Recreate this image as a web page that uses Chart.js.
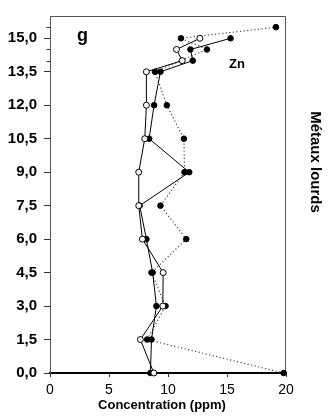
<!DOCTYPE html>
<html>
<head>
<meta charset="utf-8" />
<title>Zn - profil</title>
<script src="https://cdn.jsdelivr.net/npm/chart.js@4/dist/chart.umd.min.js"></script>
<style>
  html, body { margin: 0; padding: 0; background: #fff; }
  #wrap { position: relative; width: 328px; height: 416px; }
</style>
</head>
<body>
<div id="wrap"><canvas id="zn"></canvas></div>
<script>
// profondeurs (cm) et concentrations en Zn (ppm)
var depths = [0, 1.5, 3, 4.5, 6, 7.5, 9, 10.5, 12, 13.5, 14, 14.5, 15];
var znOpen = [8.8, 7.66, 9.56, 9.59, 7.83, 7.52, 7.52, 8.03, 8.17, 8.17, 11.2, 10.72, 12.7];
var znFilled = [8.51, 8.6, 9.02, 8.7, 8.17, 7.6, 11.8, 8.4, 8.82, 9.36, 12.1, 11.9, 15.3];
var dottedDepths = [0, 1.5, 3, 4.5, 6, 7.5, 9, 10.5, 12, 13.5, 14.5, 15, 15.5];
var znDotted = [19.8, 8.23, 9.79, 8.6, 11.55, 9.36, 11.4, 11.35, 9.9, 8.9, 13.3, 11.1, 19.15];

var xTicks = [0, 5, 10, 15, 20];
var yTicks = [0, 1.5, 3, 4.5, 6, 7.5, 9, 10.5, 12, 13.5, 15];
var yMinorTicks = [14, 14.5, 15.5];

function pairs(xs, ys) {
  return xs.map(function (x, i) { return { x: x, y: ys[i] }; });
}

var FONT = '"Liberation Sans", Arial, Helvetica, sans-serif';

// cadre, petites graduations et textes
var extras = {
  id: 'extras',
  beforeDatasetsDraw: function (chart) {
    var ctx = chart.ctx, a = chart.chartArea, y = chart.scales.y;
    ctx.save();
    ctx.strokeStyle = '#555';
    ctx.lineWidth = 1;
    ctx.beginPath();
    ctx.moveTo(a.left, a.top + 0.5);
    ctx.lineTo(a.right - 0.5, a.top + 0.5);
    ctx.lineTo(a.right - 0.5, a.bottom);
    ctx.stroke();
    ctx.strokeStyle = '#333';
    yMinorTicks.forEach(function (v) {
      var py = Math.round(y.getPixelForValue(v)) + 0.5;
      ctx.beginPath();
      ctx.moveTo(a.left - 3.5, py);
      ctx.lineTo(a.left, py);
      ctx.stroke();
    });
    ctx.restore();
  },
  afterDraw: function (chart) {
    var ctx = chart.ctx;
    ctx.save();
    ctx.fillStyle = '#000';
    ctx.textBaseline = 'alphabetic';
    ctx.textAlign = 'left';
    ctx.font = 'bold 18px ' + FONT;
    ctx.fillText('g', 77, 41);
    ctx.font = 'bold 13px ' + FONT;
    ctx.fillText('Zn', 229, 68);
    ctx.textAlign = 'center';
    ctx.textBaseline = 'middle';
    ctx.fillText('Concentration (ppm)', 162, 405);
    ctx.translate(315, 162);
    ctx.rotate(Math.PI / 2);
    ctx.font = 'bold 15px ' + FONT;
    ctx.fillText('Métaux lourds', 0, 0);
    ctx.restore();
  }
};

new Chart(document.getElementById('zn'), {
  type: 'scatter',
  data: {
    datasets: [{
      label: 'Zn (1)',
      data: pairs(znOpen, depths),
      showLine: true,
      borderColor: '#000',
      borderWidth: 1,
      pointRadius: 3,
      pointBackgroundColor: '#fff',
      pointBorderColor: '#000',
      pointBorderWidth: 1,
      clip: false
    }, {
      label: 'Zn (2)',
      data: pairs(znFilled, depths),
      showLine: true,
      borderColor: '#000',
      borderWidth: 1,
      pointRadius: 2.8,
      pointBackgroundColor: '#000',
      pointBorderColor: '#000',
      pointBorderWidth: 1,
      clip: false
    }, {
      label: 'Zn (3)',
      data: pairs(znDotted, dottedDepths),
      showLine: true,
      borderColor: '#444',
      borderWidth: 1.2,
      borderDash: [1.2, 2.4],
      pointRadius: 2.8,
      pointBackgroundColor: '#000',
      pointBorderColor: '#000',
      pointBorderWidth: 1,
      clip: false
    }]
  },
  options: {
    responsive: true,
    maintainAspectRatio: false,
    animation: false,
    events: [],
    layout: { padding: { top: 9, right: 42, left: 0, bottom: 0 } },
    plugins: { legend: { display: false }, tooltip: { enabled: false } },
    scales: {
      x: {
        type: 'linear',
        min: 0,
        max: 20,
        afterBuildTicks: function (s) { s.ticks = xTicks.map(function (v) { return { value: v }; }); },
        afterFit: function (s) { s.height = 43; },
        border: { color: '#000', width: 2 },
        grid: { drawOnChartArea: false, tickLength: 4, color: '#333' },
        ticks: {
          color: '#000',
          padding: 5,
          font: { family: FONT, size: 14 },
          maxRotation: 0
        }
      },
      y: {
        type: 'linear',
        min: 0,
        max: 16,
        afterBuildTicks: function (s) { s.ticks = yTicks.map(function (v) { return { value: v }; }); },
        afterFit: function (s) { s.width = 50; },
        border: { color: '#555', width: 1 },
        grid: { drawOnChartArea: false, tickLength: 6, color: '#333' },
        ticks: {
          color: '#000',
          padding: 7,
          autoSkip: false,
          font: { family: FONT, size: 15, weight: 'bold' },
          callback: function (v) { return v.toFixed(1).replace('.', ','); }
        }
      }
    }
  },
  plugins: [extras]
});
</script>
</body>
</html>
